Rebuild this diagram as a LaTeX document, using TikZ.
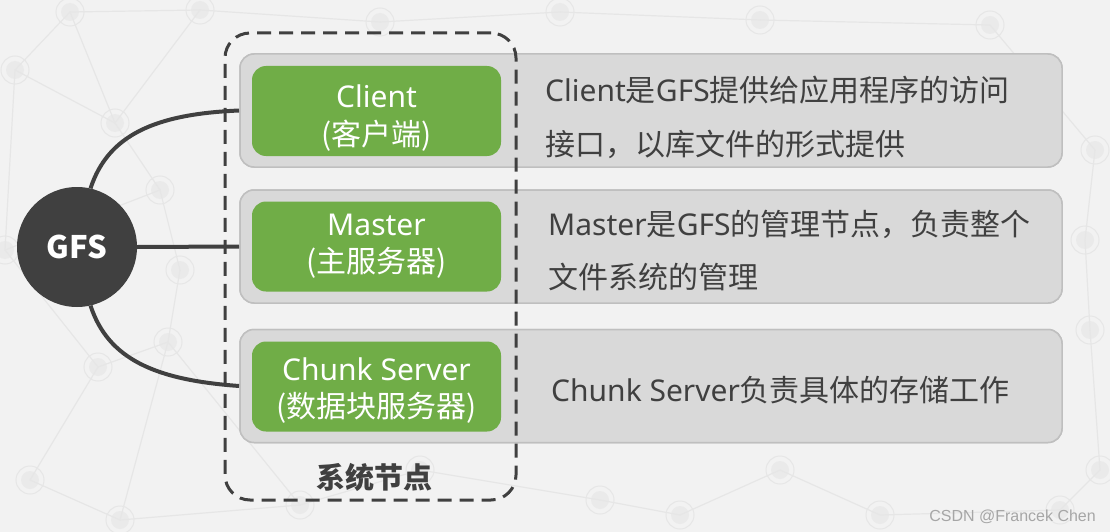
\documentclass[tikz,border=0pt]{standalone}
\usepackage{fontspec}
\setmainfont{Noto Sans}
\newfontfamily\cjk{Noto Sans CJK SC}
\newfontfamily\wmfont{Liberation Sans}
\definecolor{bg}{HTML}{F2F2F2}
\definecolor{dk}{HTML}{404040}
\definecolor{grn}{HTML}{70AD47}
\definecolor{gbox}{HTML}{D9D9D9}
\definecolor{gedge}{HTML}{BFBFBF}
\definecolor{net}{HTML}{E6E6E6}
\definecolor{netc}{HTML}{EAEAEA}
\definecolor{wm}{HTML}{A6A6A6}
\tikzset{
  graybox/.style={draw=gedge, line width=1.5pt, fill=gbox, rounded corners=14pt,
    minimum width=822pt, minimum height=113pt, inner sep=0pt},
  greenbox/.style={fill=grn, rounded corners=14pt,
    minimum width=249pt, minimum height=90pt, inner sep=0pt},
  gtxt/.style={text=white, font=\fontsize{30}{36}\selectfont, anchor=base, inner sep=0pt},
  rtxt/.style={text=dk, font=\fontsize{30}{36}\selectfont, anchor=base west, inner sep=0pt},
  conn/.style={draw=dk, line width=4pt},
  hub/.style={circle, fill=dk, minimum size=120pt, inner sep=0pt, text=white,
    font=\fontsize{31}{36}\selectfont\cjk\bfseries},
  sysframe/.style={draw=dk, line width=3pt, dash pattern=on 14pt off 8pt,
    rounded corners=25pt, minimum width=291pt, minimum height=467pt, inner sep=0pt},
  netline/.style={draw=net, line width=1.2pt},
}
\begin{document}
\begin{tikzpicture}[x=1pt, y=-1pt]
\fill[bg] (0,0) rectangle (1110,532);
\useasboundingbox (0,0) rectangle (1110,532);

% faint network pattern in the background
\foreach \a/\b in {15/70, 115/123, 160/190, 98/367, 168/342, 30/480, 120/520, 300/505,
  420/470, 600/500, 780/470, 880/515, 1060/510, 1090/330, 1095/150, 990/25, 760/20,
  560/12, 380/22, 200/10, 70/12, 1100/470, 5/250, 180/270, 1085/240, 680/515}
  {\fill[netc] (\a,\b) circle (9pt); \draw[net, line width=1pt] (\a,\b) circle (14pt);}
\foreach \a/\b/\c/\d in {15/70/115/123, 115/123/160/190, 115/123/70/12, 70/12/200/10,
  15/70/70/12, 160/190/5/250, 5/250/98/367, 98/367/168/342, 168/342/180/270,
  180/270/160/190, 98/367/30/480, 30/480/120/520, 120/520/300/505, 300/505/420/470,
  420/470/600/500, 600/500/680/515, 680/515/780/470, 780/470/880/515, 880/515/1060/510,
  1060/510/1100/470, 1100/470/1090/330, 1090/330/1085/240, 1085/240/1095/150,
  1095/150/990/25, 990/25/760/20, 760/20/560/12, 560/12/380/22, 380/22/200/10,
  200/10/115/123, 168/342/300/505, 15/70/5/250, 120/520/168/342}
  {\draw[netline] (\a,\b) -- (\c,\d);}

% connectors
\node[hub] (gfs) at (77,247) {GFS};
\node[graybox] (b1) at (651,110.5) {};
\node[graybox] (b2) at (651,246.5) {};
\node[graybox] (b3) at (651,386) {};
\draw[conn] (gfs.77) .. controls (108,135) and (155,114) .. (b1.west);
\draw[conn] (gfs.east) -- (b2.west);
\draw[conn] (gfs.-77) .. controls (108,359) and (155,380) .. (b3.west);
\node[graybox] at (b1) {};
\node[graybox] at (b2) {};
\node[graybox] at (b3) {};

% green boxes
\node[greenbox] (g1) at (376.5,111) {};
\node[greenbox] (g2) at (376.5,246.5) {};
\node[greenbox] (g3) at (376.5,386.5) {};
\node[gtxt] (g1a) at (376.5,108) {Client};
\node[gtxt] (g1b) at (376.5,145.5) {\cjk (客户端)};
\node[gtxt] (g2a) at (376.5,235) {Master};
\node[gtxt] (g2b) at (376.5,272) {\cjk (主服务器)};
\node[gtxt] (g3a) at (376.5,380) {Chunk Server};
\node[gtxt] (g3b) at (376.5,417) {\cjk (数据块服务器)};

% dashed frame
\node[sysframe] (sys) at (370.5,266.5) {};
\node[text=dk, font=\fontsize{29}{34}\selectfont\cjk\bfseries, inner sep=0pt] (syslabel) at (374,477) {系统节点};

% descriptions
\node[rtxt] (d1a) at (545,101.5) {Client{\cjk 是}GFS{\cjk 提供给应用程序的访问}};
\node[rtxt] (d1b) at (545,155) {\cjk 接口，以库文件的形式提供};
\node[rtxt] (d2a) at (548,235) {Master{\cjk 是}GFS{\cjk 的管理节点，负责整个}};
\node[rtxt] (d2b) at (548,288) {\cjk 文件系统的管理};
\node[rtxt] (d3a) at (551,401) {Chunk Server{\cjk 负责具体的存储工作}};

% watermark
\node[text=wm, font=\fontsize{16}{18}\selectfont\wmfont, anchor=base east, inner sep=0pt] (wmk) at (1096,521) {CSDN @Francek Chen};
\end{tikzpicture}
\end{document}
